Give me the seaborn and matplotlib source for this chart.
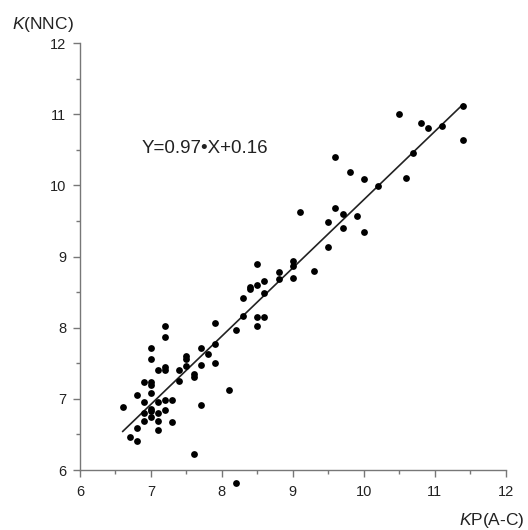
import numpy as np
import pandas as pd
import matplotlib
matplotlib.use("Agg")
import matplotlib.pyplot as plt
import seaborn as sns

# Data
kp_ac = [6.6, 6.7, 6.8, 6.8, 6.8, 6.9, 6.9, 6.9, 6.9,
         7.0, 7.0, 7.0, 7.0, 7.0, 7.0, 7.0, 7.0,
         7.1, 7.1, 7.1, 7.1, 7.1,
         7.2, 7.2, 7.2, 7.2, 7.2, 7.2,
         7.3, 7.3, 7.4, 7.4, 7.5, 7.5, 7.5, 7.6, 7.6, 7.6,
         7.7, 7.7, 7.7, 7.8, 7.9, 7.9, 7.9, 8.1, 8.2, 8.2,
         8.3, 8.5, 8.5, 8.3, 8.4, 8.4, 8.5, 8.5, 8.6, 8.6, 8.6,
         8.8, 8.8, 9.0, 9.0, 9.0, 9.1, 9.3, 9.5, 9.5, 9.6, 9.7, 9.7,
         9.9, 10.0, 9.6, 9.8, 10.0, 10.2, 10.5, 10.6, 10.7, 10.8, 10.9,
         11.1, 11.4, 11.4]
k_nnc = [6.88, 6.46, 6.41, 6.59, 7.05, 7.24, 6.95, 6.80, 6.69,
         7.72, 7.56, 7.24, 7.19, 7.08, 6.86, 6.83, 6.74,
         7.40, 6.96, 6.80, 6.69, 6.56,
         8.03, 7.87, 7.45, 7.40, 6.99, 6.84,
         6.99, 6.67, 7.40, 7.25, 7.46, 7.60, 7.56, 7.35, 7.31, 6.23,
         7.71, 7.47, 6.91, 7.63, 8.07, 7.77, 7.51, 7.12, 7.97, 5.82,
         8.17, 8.15, 8.03, 8.42, 8.57, 8.54, 8.90, 8.60, 8.65, 8.49, 8.15,
         8.78, 8.69, 8.94, 8.86, 8.70, 9.63, 8.80, 9.49, 9.13, 9.68, 9.60, 9.40,
         9.57, 9.35, 10.40, 10.19, 10.09, 9.99, 11.00, 10.10, 10.45, 10.88, 10.81,
         10.83, 11.12, 10.63]
# Fitted line endpoints as drawn in the reference
fit_x = [6.6, 11.4]
fit_y = [6.54, 11.14]
equation = "Y=0.97\u2022X+0.16"
x_ticks = [6, 7, 8, 9, 10, 11, 12]
y_ticks = [6, 7, 8, 9, 10, 11, 12]

sns.set_style("ticks")
plt.rcParams['font.family'] = ['Liberation Sans', 'DejaVu Sans']
plt.rcParams['mathtext.fontset'] = 'custom'
plt.rcParams['mathtext.rm'] = 'Liberation Sans'
plt.rcParams['mathtext.it'] = 'Liberation Sans:italic'

df = pd.DataFrame({"x": kp_ac, "y": k_nnc})
fit = pd.DataFrame({"x": fit_x, "y": fit_y})

fig = plt.figure(figsize=(5.28, 5.30), dpi=100)
ax = fig.add_axes([80 / 528, 60 / 530, 425.7 / 528, 427 / 530])

sns.lineplot(data=fit, x="x", y="y", ax=ax, color="#222222", linewidth=1.2)
sns.scatterplot(data=df, x="x", y="y", ax=ax, color="black", s=24,
                edgecolor="black", linewidth=0, clip_on=False, zorder=3)

ax.set_xlim(6, 12)
ax.set_ylim(6, 12)
ax.set_xticks(x_ticks)
ax.set_yticks(y_ticks)
ax.set_xticks(np.arange(6.5, 12, 1.0), minor=True)
ax.set_yticks(np.arange(6.5, 12, 1.0), minor=True)
ax.set_xlabel("")
ax.set_ylabel("")

spine_col = "#777777"
for side in ["top", "right"]:
    ax.spines[side].set_visible(False)
for side in ["left", "bottom"]:
    ax.spines[side].set_color(spine_col)
    ax.spines[side].set_linewidth(1.0)
ax.tick_params(which="major", length=5, width=1.0, color=spine_col,
               labelsize=10.5, labelcolor="#222222")
ax.tick_params(axis="x", which="major", pad=6)
ax.tick_params(axis="y", which="major", pad=5)
ax.tick_params(which="minor", length=3, width=1.0, color=spine_col)

ax.text(6.87, 10.52, equation, fontsize=13.5, va="center", ha="left", color="#222222")
fig.text(12 / 528, 1 - 25 / 530, r"$K$(NNC)", fontsize=12.5, va="center", ha="left", color="#222222")
fig.text(525 / 528, 1 - 521 / 530, r"$K$P(A-C)", fontsize=12.5, va="center", ha="right", color="#222222")

fig.savefig("out.png", dpi=100)
